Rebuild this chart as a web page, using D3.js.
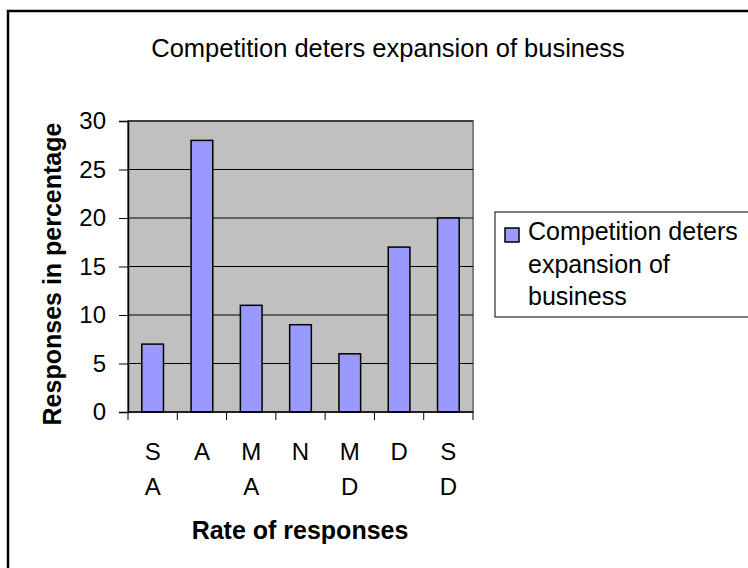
<!DOCTYPE html>
<html>
<head>
<meta charset="utf-8">
<script src="https://cdn.jsdelivr.net/npm/d3@7"></script>
<style>
  body { margin: 0; background: #fff; }
  svg { display: block; font-family: "Liberation Sans", Arial, sans-serif; }
</style>
</head>
<body>
<div id="chart"></div>
<script>
// data
var categories = [["S", "A"], ["A"], ["M", "A"], ["N"], ["M", "D"], ["D"], ["S", "D"]];
var values = [7, 28, 11, 9, 6, 17, 20];
var yTicks = [0, 5, 10, 15, 20, 25, 30];
var seriesName = ["Competition deters", "expansion of", "business"];
var title = "Competition deters expansion of business";

var W = 748, H = 568;
var plot = {left: 128, right: 473, top: 121, bottom: 412};

var svg = d3.select('#chart').append('svg').attr('width', W).attr('height', H);

// outer chart frame (only top and left show inside the picture)
svg.append('rect')
    .attr('x', 8).attr('y', 11)
    .attr('width', W + 20).attr('height', H + 20)
    .attr('fill', '#fff').attr('stroke', '#000').attr('stroke-width', 2.5);

var x = d3.scaleBand()
    .domain(d3.range(values.length))
    .range([plot.left, plot.right])
    .paddingInner(0.56).paddingOuter(0.28);

var y = d3.scaleLinear().domain([0, 30]).range([plot.bottom, plot.top]);

// plot area background
svg.append('rect')
    .attr('x', plot.left).attr('y', plot.top)
    .attr('width', plot.right - plot.left).attr('height', plot.bottom - plot.top)
    .attr('fill', '#c0c0c0').attr('stroke', '#808080').attr('stroke-width', 2);

// gridlines
svg.append('g').selectAll('line').data(yTicks.slice(1)).enter().append('line')
    .attr('x1', plot.left).attr('x2', plot.right)
    .attr('y1', function(d) {return y(d);}).attr('y2', function(d) {return y(d);})
    .attr('stroke', '#000').attr('stroke-width', 1);

// bars
svg.append('g').selectAll('rect').data(values).enter().append('rect')
    .attr('x', function(d, i) {return x(i);})
    .attr('width', x.bandwidth())
    .attr('y', function(d) {return y(d);})
    .attr('height', function(d) {return y(0) - y(d);})
    .attr('fill', '#9999ff').attr('stroke', '#000').attr('stroke-width', 1.5);

// y axis
var yAxis = svg.append('g')
    .attr('transform', 'translate(' + plot.left + ',0)')
    .call(d3.axisLeft(y).tickValues(yTicks).tickSize(9).tickPadding(13));
yAxis.select('.domain').attr('stroke-width', 1.5);
yAxis.selectAll('text').style('font-size', '24px').attr('fill', '#000')
    .style('font-family', '"Liberation Sans", Arial, sans-serif');

// x axis: ticks sit on the band boundaries
var bounds = d3.range(values.length + 1).map(function(i) {return plot.left + i * (plot.right - plot.left) / values.length;});
svg.append('line')
    .attr('x1', plot.left).attr('x2', plot.right)
    .attr('y1', plot.bottom).attr('y2', plot.bottom)
    .attr('stroke', '#000').attr('stroke-width', 1.5);
svg.append('g').selectAll('line').data(bounds).enter().append('line')
    .attr('x1', function(d) {return d;}).attr('x2', function(d) {return d;})
    .attr('y1', plot.bottom).attr('y2', plot.bottom + 8)
    .attr('stroke', '#000').attr('stroke-width', 1);

var catLabels = svg.append('g').selectAll('text').data(categories).enter().append('text')
    .attr('x', function(d, i) {return x(i) + x.bandwidth() / 2;})
    .attr('y', 460)
    .attr('text-anchor', 'middle')
    .style('font-size', '24px');
catLabels.selectAll('tspan').data(function(d) {return d;}).enter().append('tspan')
    .attr('x', function() {return d3.select(this.parentNode).attr('x');})
    .attr('dy', function(d, i) {return i ? 34.5 : 0;})
    .text(function(d) {return d;});

// titles
svg.append('text')
    .attr('x', 388).attr('y', 57)
    .attr('text-anchor', 'middle')
    .style('font-size', '25.5px')
    .text(title);

svg.append('text')
    .attr('x', 300).attr('y', 539)
    .attr('text-anchor', 'middle')
    .style('font-size', '25px').style('font-weight', 'bold')
    .text('Rate of responses');

svg.append('text')
    .attr('transform', 'translate(61,274) rotate(-90)')
    .attr('text-anchor', 'middle')
    .style('font-size', '25px').style('font-weight', 'bold')
    .text('Responses in percentage');

// legend
var legend = svg.append('g');
legend.append('rect')
    .attr('x', 495).attr('y', 212)
    .attr('width', 300).attr('height', 105)
    .attr('fill', '#fff').attr('stroke', '#000').attr('stroke-width', 1);
legend.append('rect')
    .attr('x', 505).attr('y', 228)
    .attr('width', 14).attr('height', 14)
    .attr('fill', '#9999ff').attr('stroke', '#000').attr('stroke-width', 1.5);
legend.append('text')
    .attr('y', 240)
    .style('font-size', '25px')
    .selectAll('tspan').data(seriesName).enter().append('tspan')
    .attr('x', 528)
    .attr('dy', function(d, i) {return i ? 32.5 : 0;})
    .text(function(d) {return d;});
</script>
</body>
</html>
